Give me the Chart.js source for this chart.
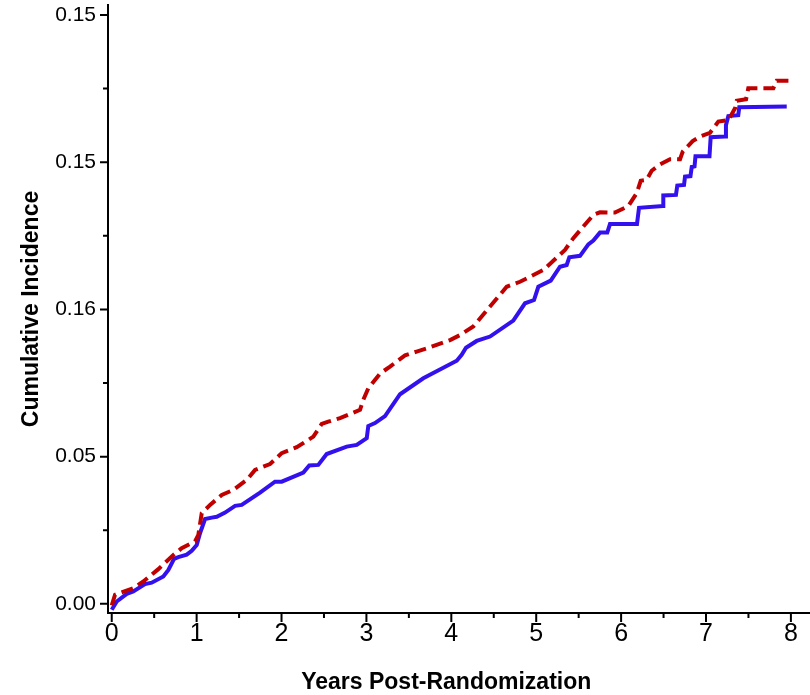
<!DOCTYPE html>
<html>
<head>
<meta charset="utf-8">
<script src="https://cdn.jsdelivr.net/npm/chart.js@4.4.1/dist/chart.umd.min.js"></script>
<style>
  body { margin: 0; background: #fff; }
  #wrap { width: 810px; height: 695px; }
</style>
</head>
<body>
<div id="wrap"><canvas id="incidenceChart" width="810" height="695"></canvas></div>
<script>
// tick values and labels (labels copied as printed on the figure)
const xTickValues = [0, 1, 2, 3, 4, 5, 6, 7, 8];
const xTickLabels = ['0', '1', '2', '3', '4', '5', '6', '7', '8'];
const xMinorTicks = [0.5, 1.5, 2.5, 3.5, 4.5, 5.5, 6.5, 7.5];
const yTickValues = [0, 0.05, 0.10, 0.15, 0.20];
const yTickLabels = ['0.00', '0.05', '0.16', '0.15', '0.15'];
const yMinorTicks = [0.025, 0.075, 0.125, 0.175];

// solid blue curve
const blueYears = [0.00, 0.059, 0.177, 0.254, 0.392, 0.471, 0.608, 0.667, 0.734, 0.784, 0.883, 0.942,
  1.001, 1.040, 1.099, 1.178, 1.237, 1.335, 1.453, 1.531, 1.747, 1.923, 2.002, 2.257, 2.327, 2.433,
  2.532, 2.768, 2.886, 3.004, 3.022, 3.101, 3.219, 3.396, 3.670, 4.064, 4.122, 4.173, 4.299, 4.456,
  4.730, 4.868, 4.974, 5.025, 5.171, 5.280, 5.359, 5.390, 5.516, 5.614, 5.673, 5.751, 5.837, 5.869,
  6.187, 6.211, 6.494, 6.497, 6.646, 6.662, 6.741, 6.753, 6.817, 6.832, 6.865, 6.876, 7.041, 7.055,
  7.224, 7.235, 7.263, 7.380, 7.392, 7.951];
const blueValues = [-0.002, 0.0008, 0.0034, 0.0042, 0.0067, 0.0072, 0.0093, 0.0115, 0.0153, 0.0159, 0.0167, 0.0180,
  0.0200, 0.0240, 0.0288, 0.0293, 0.0296, 0.0310, 0.0333, 0.0336, 0.0378, 0.0415, 0.0415, 0.0446, 0.0470, 0.0472,
  0.0509, 0.0534, 0.0540, 0.0563, 0.0604, 0.0614, 0.0638, 0.0712, 0.0766, 0.0826, 0.0846, 0.0870, 0.0893, 0.0908,
  0.0962, 0.1021, 0.1032, 0.1077, 0.1098, 0.1145, 0.1151, 0.1177, 0.1182, 0.1221, 0.1234, 0.1261, 0.1261, 0.1290,
  0.1290, 0.1345, 0.1351, 0.1387, 0.1389, 0.1421, 0.1423, 0.1451, 0.1453, 0.1484, 0.1486, 0.1520, 0.1520, 0.1585,
  0.1587, 0.1626, 0.1657, 0.1660, 0.1687, 0.1689];

// dashed red curve
const redYears = [0.00, 0.039, 0.254, 0.372, 0.549, 0.726, 0.824, 0.981, 1.020, 1.060, 1.158, 1.296, 1.432,
  1.590, 1.688, 1.865, 2.002, 2.179, 2.375, 2.473, 2.551, 2.689, 2.925, 2.963, 3.022, 3.160, 3.278, 3.455,
  3.592, 3.710, 3.985, 4.102, 4.259, 4.456, 4.652, 4.809, 5.084, 5.339, 5.437, 5.673, 5.751, 5.928, 6.085,
  6.184, 6.231, 6.301, 6.360, 6.450, 6.576, 6.694, 6.726, 6.843, 6.929, 7.047, 7.145, 7.263, 7.342, 7.362,
  7.472, 7.498, 7.793, 7.833, 7.989];
const redValues = [-0.0005, 0.0031, 0.0053, 0.0076, 0.0118, 0.0166, 0.0189, 0.0212, 0.0234, 0.0308, 0.0336, 0.0370, 0.0387,
  0.0421, 0.0455, 0.0475, 0.0512, 0.0532, 0.0568, 0.0611, 0.0619, 0.0631, 0.0659, 0.0693, 0.0732, 0.0782, 0.0806, 0.0844,
  0.0857, 0.0868, 0.0896, 0.0913, 0.0942, 0.1010, 0.1077, 0.1094, 0.1134, 0.1202, 0.1242, 0.1321, 0.1330, 0.1329, 0.1351,
  0.1395, 0.1437, 0.1440, 0.1471, 0.1491, 0.1510, 0.1510, 0.1536, 0.1572, 0.1587, 0.1600, 0.1638, 0.1643, 0.1683, 0.1709,
  0.1714, 0.1751, 0.1751, 0.1777, 0.1777];

const toPoints = (xs, ys) => xs.map((x, i) => ({ x: x, y: ys[i] }));

// axis tick marks: long for labelled ticks, short for minor ones
const tickMarks = {
  id: 'tickMarks',
  afterDraw(chart) {
    const ctx = chart.ctx;
    const xs = chart.scales.x, ys = chart.scales.y;
    const area = chart.chartArea;
    ctx.save();
    ctx.strokeStyle = '#000';
    ctx.lineWidth = 2;
    ctx.beginPath();
    yTickValues.forEach(v => { const p = ys.getPixelForValue(v); ctx.moveTo(area.left - 8, p); ctx.lineTo(area.left, p); });
    yMinorTicks.forEach(v => { const p = ys.getPixelForValue(v); ctx.moveTo(area.left - 5, p); ctx.lineTo(area.left, p); });
    xTickValues.forEach(v => { const p = xs.getPixelForValue(v); ctx.moveTo(p, area.bottom); ctx.lineTo(p, area.bottom + 9); });
    xMinorTicks.forEach(v => { const p = xs.getPixelForValue(v); ctx.moveTo(p, area.bottom); ctx.lineTo(p, area.bottom + 5); });
    ctx.stroke();
    ctx.restore();
  }
};

const ctx = document.getElementById('incidenceChart').getContext('2d');
new Chart(ctx, {
  type: 'line',
  data: {
    datasets: [
      {
        data: toPoints(redYears, redValues),
        borderColor: '#c00000',
        borderWidth: 4,
        borderDash: [12, 6],
        pointRadius: 0,
        tension: 0
      },
      {
        data: toPoints(blueYears, blueValues),
        borderColor: '#3311ee',
        borderWidth: 4,
        pointRadius: 0,
        tension: 0
      }
    ]
  },
  options: {
    responsive: false,
    animation: false,
    layout: { padding: { top: 5, right: 0, left: 0, bottom: 0 } },
    plugins: { legend: { display: false }, tooltip: { enabled: false } },
    scales: {
      x: {
        type: 'linear',
        min: -0.044,
        max: 8.225,
        afterFit: s => { s.height = 82; s.paddingLeft = 0; s.paddingRight = 0; },
        afterBuildTicks: s => { s.ticks = xTickValues.map(v => ({ value: v })); },
        grid: { display: true, drawOnChartArea: false, drawTicks: false },
        border: { display: true, color: '#000', width: 2 },
        ticks: {
          color: '#000',
          padding: 9,
          maxRotation: 0,
          autoSkip: false,
          font: { family: '"Liberation Sans", Arial, sans-serif', size: 25, lineHeight: 1 },
          callback: (value, index) => xTickLabels[index]
        },
        title: {
          display: true,
          text: 'Years Post-Randomization    ',
          color: '#000',
          padding: 0,
          font: { family: '"Liberation Sans", Arial, sans-serif', size: 23, weight: 'bold', lineHeight: 1.1 }
        }
      },
      y: {
        type: 'linear',
        min: -0.0031,
        max: 0.2034,
        afterFit: s => { s.width = 108; s.paddingTop = 0; s.paddingBottom = 0; },
        afterBuildTicks: s => { s.ticks = yTickValues.map(v => ({ value: v })); },
        grid: { display: true, drawOnChartArea: false, drawTicks: false },
        border: { display: true, color: '#000', width: 2 },
        ticks: {
          color: '#000',
          padding: 12,
          autoSkip: false,
          font: { family: '"Liberation Sans", Arial, sans-serif', size: 21 },
          callback: (value, index) => yTickLabels[index]
        },
        title: {
          display: true,
          text: 'Cumulative Incidence',
          color: '#000',
          padding: { top: 18, bottom: 0 },
          font: { family: '"Liberation Sans", Arial, sans-serif', size: 23, weight: 'bold', lineHeight: 1.2 }
        }
      }
    }
  },
  plugins: [tickMarks]
});
</script>
</body>
</html>
